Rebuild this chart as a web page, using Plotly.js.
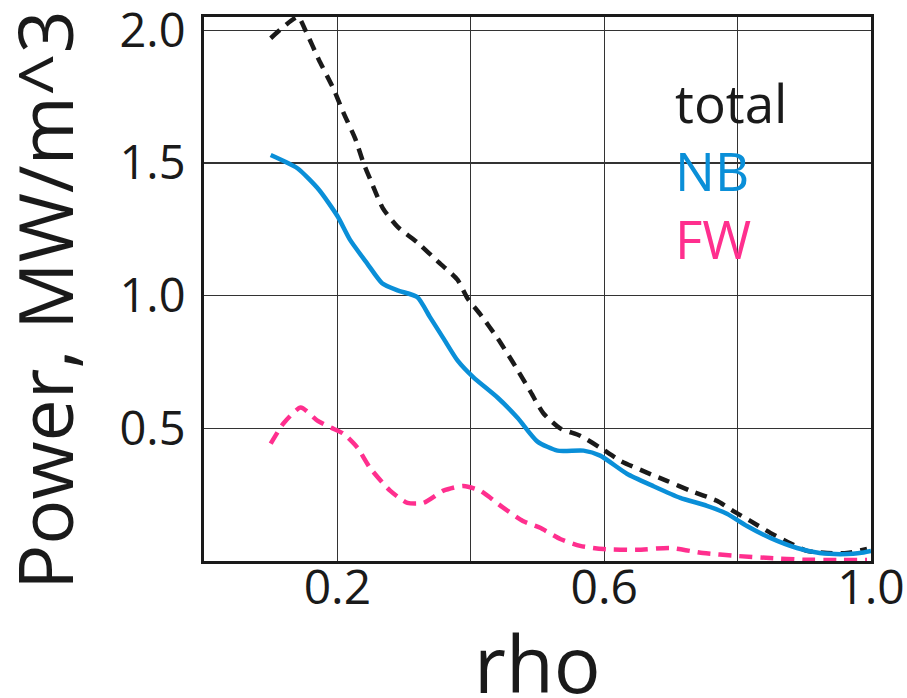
<!DOCTYPE html>
<html>
<head>
<meta charset="utf-8">
<script src="https://cdn.plot.ly/plotly-3.0.1.min.js"></script>
<style>html,body{margin:0;padding:0;background:#fff;}#chart{width:907px;height:698px;}</style>
</head>
<body>
<div id="chart"></div>
<script>
const totalRho = [0.100,0.141,0.152,0.172,0.194,0.209,0.227,0.239,0.249,0.268,0.290,0.320,0.350,0.380,0.395,0.414,0.440,0.464,0.489,0.509,0.534,0.564,0.594,0.624,0.664,0.694,0.729,0.769,0.793,0.819,0.849,0.878,0.904,0.934,0.964,0.994];
const totalVal = [1.97,2.05,2.00,1.89,1.78,1.69,1.59,1.50,1.44,1.33,1.26,1.20,1.13,1.06,0.99,0.93,0.84,0.745,0.64,0.556,0.50,0.472,0.427,0.378,0.333,0.302,0.265,0.227,0.189,0.151,0.106,0.068,0.038,0.030,0.030,0.045];

const nbRho = [0.100,0.140,0.172,0.200,0.219,0.245,0.267,0.290,0.320,0.339,0.359,0.380,0.404,0.440,0.470,0.500,0.530,0.569,0.594,0.634,0.673,0.714,0.754,0.784,0.814,0.849,0.889,0.923,0.964,0.983,1.000];
const nbVal = [1.53,1.48,1.40,1.30,1.21,1.12,1.047,1.02,0.994,0.918,0.839,0.756,0.692,0.616,0.540,0.45,0.416,0.416,0.397,0.329,0.283,0.238,0.208,0.178,0.132,0.087,0.049,0.030,0.026,0.030,0.038];

const fwRho = [0.100,0.119,0.145,0.170,0.190,0.209,0.230,0.249,0.279,0.305,0.329,0.359,0.389,0.414,0.449,0.478,0.504,0.534,0.564,0.599,0.649,0.699,0.748,0.799,0.849,0.898,0.949,0.994];
const fwVal = [0.442,0.518,0.578,0.529,0.503,0.480,0.427,0.351,0.265,0.219,0.219,0.265,0.283,0.265,0.200,0.151,0.125,0.083,0.057,0.045,0.042,0.049,0.030,0.019,0.011,0.005,0.004,0.004];

const seriesNames = ['total','NB','FW'];
const seriesColors = ['#1a1a1a','#0a8fd8','#ff2f8e'];
const xTickVals = [0.2,0.4,0.6,0.8,1.0];
const xTickText = ['0.2','','0.6','','1.0'];
const yTickVals = [0.5,1.0,1.5,2.0];
const yTickText = ['0.5','1.0','1.5','2.0'];
const xTitle = 'rho';
const yTitle = 'Power, MW/m^3';

const FONT = '"Open Sans", "Noto Sans", sans-serif';
const traces = [
  {x: totalRho, y: totalVal, mode:'lines', name: seriesNames[0],
   line:{color: seriesColors[0], width:4.5, dash:'12px,8px', shape:'spline', smoothing:0.6}},
  {x: nbRho, y: nbVal, mode:'lines', name: seriesNames[1],
   line:{color: seriesColors[1], width:4.5, shape:'spline', smoothing:0.6}},
  {x: fwRho, y: fwVal, mode:'lines', name: seriesNames[2],
   line:{color: seriesColors[2], width:4.5, dash:'13px,8px', shape:'spline', smoothing:0.6}}
];

const annotations = seriesNames.map((n,i)=>({
  xref:'paper', yref:'paper', x:0.703, y:0.842 - i*0.125, xanchor:'left', yanchor:'middle',
  text:n, showarrow:false, font:{family:FONT, size:53, color:seriesColors[i]}
}));
annotations.push({
  xref:'paper', yref:'paper', x:0.5, y:-0.1875, xanchor:'center', yanchor:'middle',
  text:xTitle, showarrow:false, font:{family:FONT, size:78, color:'#1a1a1a'}
});
annotations.push({
  xref:'paper', yref:'paper', x:-0.24, y:0.48, xanchor:'center', yanchor:'middle',
  text:yTitle, textangle:-90, showarrow:false, font:{family:FONT, size:75, color:'#1a1a1a'}
});

const layout = {
  width:907, height:698,
  margin:{l:204, r:36, t:17, b:137},
  paper_bgcolor:'#fff', plot_bgcolor:'#fff',
  showlegend:false,
  font:{family:FONT, color:'#1a1a1a'},
  xaxis:{
    range:[0,1.0], tickmode:'array', tickvals:xTickVals, ticktext:xTickText,
    showgrid:true, gridcolor:'#333', gridwidth:1.2,
    showline:true, linecolor:'#1a1a1a', linewidth:3, mirror:true,
    ticks:'', zeroline:false,
    tickfont:{family:FONT, size:48, color:'#1a1a1a'},
    ticklabelstandoff:-18,
    ticklabeloverflow:'allow'
  },
  yaxis:{
    range:[0,2.05], tickmode:'array', tickvals:yTickVals, ticktext:yTickText,
    showgrid:true, gridcolor:'#333', gridwidth:1.2,
    showline:true, linecolor:'#1a1a1a', linewidth:3, mirror:true,
    ticks:'', zeroline:false,
    tickfont:{family:FONT, size:47, color:'#1a1a1a'},
    ticklabelstandoff:6,
    ticklabeloverflow:'allow'
  },
  annotations: annotations
};

Plotly.newPlot('chart', traces, layout, {displayModeBar:false, staticPlot:true});
</script>
</body>
</html>
